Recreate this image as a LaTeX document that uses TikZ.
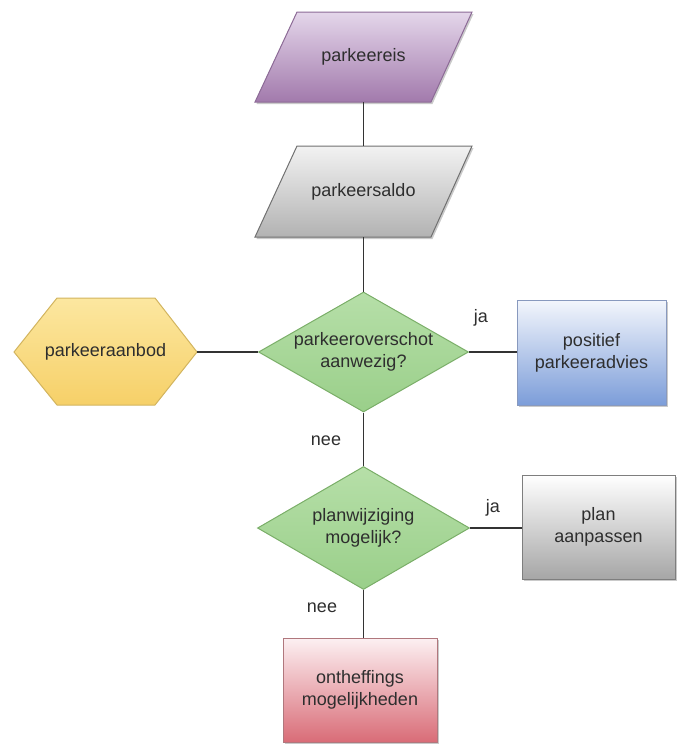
\documentclass[tikz,border=0pt]{standalone}
\usepackage{fontspec}
\setmainfont{Liberation Sans}
\usetikzlibrary{shapes.geometric,shadows}
\definecolor{txt}{HTML}{2E2E2E}
\definecolor{purT}{HTML}{E4D6EA}
\definecolor{purB}{HTML}{A27AAC}
\definecolor{purD}{HTML}{8C6A96}
\definecolor{grT}{HTML}{F2F2F2}
\definecolor{grB}{HTML}{B2B2B2}
\definecolor{grD}{HTML}{707070}
\definecolor{grnT}{HTML}{B6DFA8}
\definecolor{grnB}{HTML}{9ACF8A}
\definecolor{grnD}{HTML}{7AAE68}
\definecolor{yelT}{HTML}{FCE7A0}
\definecolor{yelB}{HTML}{F6D068}
\definecolor{yelD}{HTML}{D2B45E}
\definecolor{bluT}{HTML}{F3F6FC}
\definecolor{bluM}{HTML}{BFCFEE}
\definecolor{bluB}{HTML}{7C9DD9}
\definecolor{bluD}{HTML}{8899BE}
\definecolor{plT}{HTML}{FFFFFF}
\definecolor{plM}{HTML}{DCDCDC}
\definecolor{plB}{HTML}{A6A6A6}
\definecolor{plD}{HTML}{7E7E7E}
\definecolor{redT}{HTML}{FCF0F2}
\definecolor{redM}{HTML}{E9A2A9}
\definecolor{redB}{HTML}{D96C77}
\definecolor{redD}{HTML}{B0777D}
\begin{document}
\begin{tikzpicture}[x=1pt,y=-1pt,
  font=\fontsize{18}{22}\selectfont,
  lbl/.style={text=txt, align=center, inner sep=0pt},
  conn/.style={draw=black!80, line width=1.1pt},
  shad/.style={drop shadow={shadow xshift=1.5pt, shadow yshift=-2pt, opacity=0.35, fill=black!60}},
  para/.style={line width=1pt, shad},
  decision/.style={shape=diamond, aspect=1.75, inner sep=0pt, text=txt, align=center,
    top color=grnT, bottom color=grnB, draw=grnD, line width=1pt},
  glossy/.style={shape=rectangle, inner sep=0pt, text=txt, align=center, line width=1pt, shad}
]
\useasboundingbox (0,0) rectangle (677,745);

% parkeereis
\path[para, draw=purD, top color=purT, bottom color=purB]
  (297,12) -- (472,12) -- (431,102) -- (255,102) -- cycle;
\node[lbl, minimum width=176pt, minimum height=90pt] (reis) at (363.5,57) {parkeereis};

% parkeersaldo
\path[para, draw=grD, top color=grT, bottom color=grB]
  (297,146) -- (472,146) -- (431,237) -- (255,237) -- cycle;
\node[lbl, minimum width=176pt, minimum height=91pt] (saldo) at (363.5,191.5) {parkeersaldo};

% parkeeraanbod hexagon
\path[draw=yelD, line width=1pt, top color=yelT, bottom color=yelB]
  (14,352) -- (57,298) -- (155,298) -- (197,352) -- (155,405) -- (57,405) -- cycle;
\node[lbl, minimum width=183pt, minimum height=107pt] (aanbod) at (105.5,352) {parkeeraanbod};

% decisions
\node[decision, minimum width=210pt, minimum height=120pt] (d1) at (363.5,352)
  {parkeeroverschot\\aanwezig?};
\node[decision, minimum width=212pt, minimum height=123pt] (d2) at (363.5,528)
  {planwijziging\\mogelijk?};

% result boxes
\node[glossy, draw=bluD, top color=bluT, middle color=bluM, bottom color=bluB,
  minimum width=149pt, minimum height=105pt] (pos) at (591.5,352.5)
  {positief\\parkeeradvies};
\node[glossy, draw=plD, top color=plT, middle color=plM, bottom color=plB,
  minimum width=153pt, minimum height=104pt] (plan) at (598.5,527)
  {plan\\aanpassen};
\node[glossy, draw=redD, top color=redT, middle color=redM, bottom color=redB,
  minimum width=154pt, minimum height=104pt] (ont) at (360,690)
  {ontheffings\\mogelijkheden};

% connectors
\draw[conn] (reis.south) -- (saldo.north);
\draw[conn] (saldo.south) -- (d1.north);
\draw[conn] (aanbod.east) -- (d1.west);
\draw[conn] (d1.east) -- (pos.west |- d1.east);
\draw[conn] (d1.south) -- (d2.north);
\draw[conn] (d2.east) -- (plan.west |- d2.east);
\draw[conn] (d2.south) -- (d2.south |- ont.north);

% labels
\node[lbl] (ja1) at (481,318) {ja};
\node[lbl] (nee1) at (326,441) {nee};
\node[lbl] (ja2) at (493,508) {ja};
\node[lbl] (nee2) at (322,608) {nee};
\end{tikzpicture}
\end{document}
